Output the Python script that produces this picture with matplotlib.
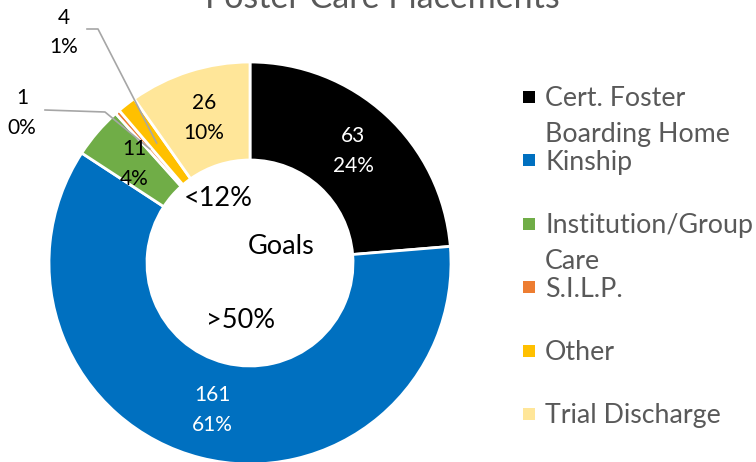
import matplotlib.pyplot as plt
from matplotlib.patches import Rectangle
import numpy as np

categories = ['Cert. Foster\nBoarding Home', 'Kinship', 'Institution/Group\nCare',
              'S.I.L.P.', 'Other', 'Trial Discharge']
counts = [63, 161, 11, 1, 4, 26]
pct_labels = ['24%', '61%', '4%', '0%', '1%', '10%']
colors = ['#000000', '#0070C0', '#70AD47', '#ED7D31', '#FFC000', '#FFE699']
label_colors = ['white', 'white', 'black', 'black', 'black', 'black']
goal_texts = ['<12%', 'Goals', '>50%']

plt.rcParams['font.family'] = ['Lato', 'DejaVu Sans']
GRAY = '#595959'

W, H = 756, 462
fig = plt.figure(figsize=(W / 100, H / 100), dpi=100)

# ring geometry in pixels
cx, cy, R, r_in = 250, 263, 201, 103

ax = fig.add_axes([(cx - R) / W, (H - cy - R) / H, 2 * R / W, 2 * R / H])
wedges, _ = ax.pie(counts, colors=colors, startangle=90, counterclock=False,
                   radius=1, wedgeprops=dict(width=1 - r_in / R, edgecolor='white', linewidth=2))
ax.set_xlim(-1, 1)
ax.set_ylim(-1, 1)
ax.axis('off')


def px(x, y):
    # pixel position on the figure -> pie data coords
    return (x - cx) / R, (cy - y) / R


mid_r = (1 + r_in / R) / 2
gap = 15 / R
anchors = []
for w, n, p, c in zip(wedges, counts, pct_labels, label_colors):
    ang = np.deg2rad((w.theta1 + w.theta2) / 2)
    x, y = mid_r * np.cos(ang), mid_r * np.sin(ang)
    anchors.append((x, y))
    if n < 5:
        continue
    ax.text(x, y + gap, str(n), color=c, fontsize=15, ha='center', va='center')
    ax.text(x, y - gap, p, color=c, fontsize=15, ha='center', va='center')

# small slices get labels pulled outside with leader lines
outside = {3: ((22, 98), (22, 128), [(45, 110), (105, 112)]),
           4: ((64, 18), (64, 47), [(87, 29), (98, 29)])}
for i, (pos_n, pos_p, pts) in outside.items():
    ax.text(*px(*pos_n), str(counts[i]), color='black', fontsize=15, ha='center', va='center')
    ax.text(*px(*pos_p), pct_labels[i], color='black', fontsize=15, ha='center', va='center')
    line = [px(*q) for q in pts] + [anchors[i]]
    xs, ys = zip(*line)
    ax.plot(xs, ys, color='#A6A6A6', lw=1.2, clip_on=False)

# goal notes inside the hole
for t, (gx, gy) in zip(goal_texts, [(218, 199), (281, 247), (241, 320)]):
    ax.text(*px(gx, gy), t, color='black', fontsize=19.5, ha='center', va='center')

fig.text(382 / W, 1 - 8 / H, 'Foster Care Placements', color=GRAY, fontsize=24.5,
         ha='center', va='baseline')

# legend, drawn by hand so wrapped entries line up like the original
y0, step, line_h = 97, 63.4, 35.5
for k, (lab, col) in enumerate(zip(categories, colors)):
    yc = y0 + k * step
    fig.add_artist(Rectangle((523 / W, 1 - (yc + 6) / H), 12 / W, 12 / H,
                             transform=fig.transFigure, facecolor=col, edgecolor='none'))
    for j, part in enumerate(lab.split('\n')):
        fig.text(545 / W, 1 - (yc + j * line_h + 9.5) / H, part, color=GRAY, fontsize=19.3,
                 ha='left', va='baseline')

fig.savefig('out.png', dpi=100)
